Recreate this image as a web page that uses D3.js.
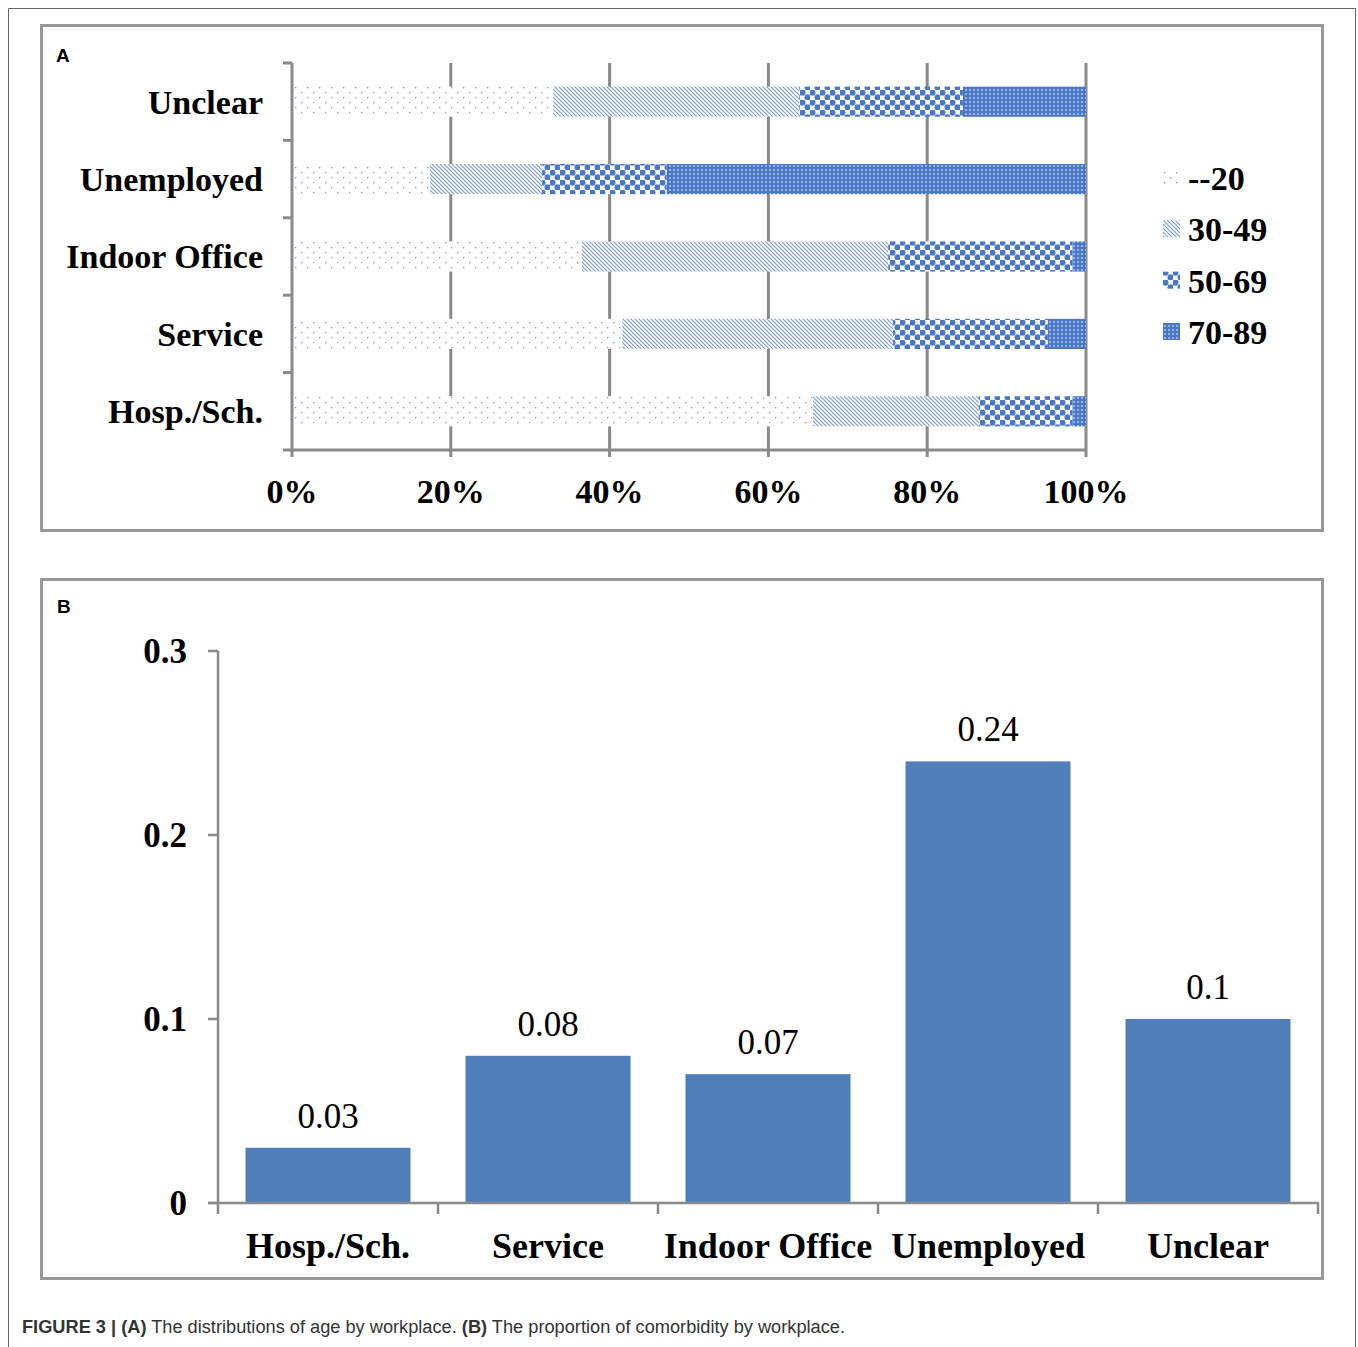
<!DOCTYPE html>
<html>
<head>
<meta charset="utf-8">
<script src="https://cdn.jsdelivr.net/npm/d3@7"></script>
<style>
  html, body { margin: 0; padding: 0; background: #fff; }
  svg { display: block; }
</style>
</head>
<body>
<svg id="fig" width="1358" height="1347"></svg>
<script>
// ---- Panel A: age distribution (%) by workplace ----
const workplacesA = ["Unclear", "Unemployed", "Indoor Office", "Service", "Hosp./Sch."];
const ageGroups = ["--20", "30-49", "50-69", "70-89"];
const ageUnder20 = [32.9, 17.4, 36.5, 41.6, 65.6];
const age30to49  = [31.0, 14.1, 38.6, 34.1, 20.9];
const age50to69  = [20.6, 15.7, 23.2, 19.5, 11.8];
const age70to89  = [15.5, 52.8, 1.7, 4.8, 1.7];
const pctTicks = [0, 20, 40, 60, 80, 100];

// ---- Panel B: proportion with comorbidity by workplace ----
const workplacesB = ["Hosp./Sch.", "Service", "Indoor Office", "Unemployed", "Unclear"];
const comorbidity = [0.03, 0.08, 0.07, 0.24, 0.1];
const propTicks = [0, 0.1, 0.2, 0.3];

const svg = d3.select("#fig");
const serif = "'Liberation Serif', 'DejaVu Serif', serif";
const sans = "'Liberation Sans', Arial, sans-serif";
const axisGrey = "#8a8a8a";
const barBlue = "#4f7ebb";

// ---------- fill patterns ----------
const defs = svg.append("defs");
const patBlue = "#4a78c6";
const patLight = "#7a9ad6";

// sparse dots
const p0 = defs.append("pattern").attr("id", "pat0").attr("patternUnits", "userSpaceOnUse")
  .attr("width", 12).attr("height", 10);
p0.append("rect").attr("width", 12).attr("height", 10).attr("fill", "#fff");
[[1, 2], [7, 7]].forEach(([x, y]) =>
  p0.append("rect").attr("x", x).attr("y", y).attr("width", 1.3).attr("height", 1.3).attr("fill", patLight));

// dense diagonal hatch
const p1 = defs.append("pattern").attr("id", "pat1").attr("patternUnits", "userSpaceOnUse")
  .attr("width", 4).attr("height", 4);
p1.append("rect").attr("width", 4).attr("height", 4).attr("fill", "#fff");
p1.append("path").attr("d", "M-1,-1 L5,5 M-1,3 L1,5 M3,-1 L5,1")
  .attr("stroke", patLight).attr("stroke-width", 1.1);

// large circles checker
const p2 = defs.append("pattern").attr("id", "pat2").attr("patternUnits", "userSpaceOnUse")
  .attr("width", 10).attr("height", 10);
p2.append("rect").attr("width", 10).attr("height", 10).attr("fill", "#fff");
[[2.5, 2.5], [7.5, 7.5]].forEach(([x, y]) =>
  p2.append("circle").attr("cx", x).attr("cy", y).attr("r", 3).attr("fill", patBlue));
p2.append("rect").attr("x", 0).attr("y", 4.5).attr("width", 10).attr("height", 1).attr("fill", patBlue).attr("opacity", 0.6);

// small dense grid
const p3 = defs.append("pattern").attr("id", "pat3").attr("patternUnits", "userSpaceOnUse")
  .attr("width", 4).attr("height", 4);
p3.append("rect").attr("width", 4).attr("height", 4).attr("fill", patBlue);
p3.append("rect").attr("x", 1).attr("y", 1.5).attr("width", 2).attr("height", 1).attr("fill", "#e6edf8");

const patFill = ["url(#pat0)", "url(#pat1)", "url(#pat2)", "url(#pat3)"];

// ---------- figure frame ----------
svg.append("path").attr("d", "M8.5,1347 V8.5 H1355.5 V1347")
  .attr("fill", "none").attr("stroke", "#666").attr("stroke-width", 1);

svg.append("rect").attr("x", 41.5).attr("y", 25.5).attr("width", 1281).attr("height", 505)
  .attr("fill", "none").attr("stroke", "#999").attr("stroke-width", 3);
svg.append("rect").attr("x", 41.5).attr("y", 579.5).attr("width", 1281).attr("height", 699)
  .attr("fill", "none").attr("stroke", "#999").attr("stroke-width", 3);

svg.append("text").attr("x", 56).attr("y", 62).text("A")
  .attr("font-family", sans).attr("font-weight", "bold").attr("font-size", 19);
svg.append("text").attr("x", 57).attr("y", 613).text("B")
  .attr("font-family", sans).attr("font-weight", "bold").attr("font-size", 19);

// ---------- Panel A ----------
const xA = d3.scaleLinear().domain([0, 100]).range([292, 1086]);
const yA = d3.scaleBand().domain(workplacesA).range([63, 450]).paddingInner(0.61).paddingOuter(0.305);
const gA = svg.append("g");

// vertical gridlines
gA.selectAll("line.grid").data(pctTicks.slice(1)).join("line")
  .attr("x1", d => xA(d)).attr("x2", d => xA(d))
  .attr("y1", 63).attr("y2", 450)
  .attr("stroke", axisGrey).attr("stroke-width", 3);

// stacked segments
const seriesA = [ageUnder20, age30to49, age50to69, age70to89];
const stackRows = workplacesA.map((w, i) => {
  const row = { workplace: w };
  ageGroups.forEach((g, k) => { row[g] = seriesA[k][i]; });
  return row;
});
const stacked = d3.stack().keys(ageGroups)(stackRows);
stacked.forEach((layer, k) => {
  gA.append("g").selectAll("rect").data(layer).join("rect")
    .attr("x", d => xA(d[0]))
    .attr("width", d => xA(d[1]) - xA(d[0]))
    .attr("y", d => yA(d.data.workplace))
    .attr("height", yA.bandwidth())
    .attr("fill", patFill[k]);
});

// left axis with category boundary ticks
const leftA = gA.append("g").attr("transform", "translate(292,0)");
leftA.append("line").attr("y1", 63).attr("y2", 451.5).attr("stroke", axisGrey).attr("stroke-width", 3);
const bounds = d3.range(workplacesA.length + 1).map(i => 63 + i * yA.step());
leftA.selectAll("line.tk").data(bounds).join("line")
  .attr("x1", -9).attr("x2", 0).attr("y1", d => d).attr("y2", d => d)
  .attr("stroke", axisGrey).attr("stroke-width", 3);
leftA.selectAll("text").data(workplacesA).join("text")
  .attr("x", -29).attr("y", d => yA(d) + yA.bandwidth() / 2)
  .attr("dy", "0.35em").attr("text-anchor", "end")
  .attr("font-family", serif).attr("font-weight", "bold").attr("font-size", 34)
  .text(d => d);

// bottom axis
const bottomA = gA.append("g").attr("transform", "translate(0,450)");
bottomA.append("line").attr("x1", 292).attr("x2", 1087).attr("stroke", axisGrey).attr("stroke-width", 3);
bottomA.selectAll("line.tk").data(pctTicks).join("line")
  .attr("x1", d => xA(d)).attr("x2", d => xA(d)).attr("y1", 0).attr("y2", 7)
  .attr("stroke", axisGrey).attr("stroke-width", 3);
bottomA.selectAll("text").data(pctTicks).join("text")
  .attr("x", d => xA(d)).attr("y", 53).attr("text-anchor", "middle")
  .attr("font-family", serif).attr("font-weight", "bold").attr("font-size", 34)
  .text(d => d + "%");

// legend
const legA = svg.append("g").attr("transform", "translate(1163,0)");
const legY = d3.scalePoint().domain(ageGroups).range([178, 332]);
legA.selectAll("rect").data(ageGroups).join("rect")
  .attr("x", 0).attr("y", d => legY(d) - 9).attr("width", 17).attr("height", 17)
  .attr("fill", (d, i) => patFill[i]);
legA.selectAll("text").data(ageGroups).join("text")
  .attr("x", 25).attr("y", d => legY(d)).attr("dy", "0.35em")
  .attr("font-family", serif).attr("font-weight", "bold").attr("font-size", 34)
  .text(d => d);

// ---------- Panel B ----------
const xB = d3.scaleBand().domain(workplacesB).range([218, 1318]).paddingInner(0.25).paddingOuter(0.125);
const yB = d3.scaleLinear().domain([0, 0.3]).range([1203, 651]);
const gB = svg.append("g");

gB.selectAll("rect").data(workplacesB).join("rect")
  .attr("x", d => xB(d)).attr("width", xB.bandwidth())
  .attr("y", (d, i) => yB(comorbidity[i]))
  .attr("height", (d, i) => yB(0) - yB(comorbidity[i]))
  .attr("fill", barBlue);

gB.selectAll("text.val").data(workplacesB).join("text")
  .attr("x", d => xB(d) + xB.bandwidth() / 2)
  .attr("y", (d, i) => yB(comorbidity[i]) - 20)
  .attr("text-anchor", "middle")
  .attr("font-family", serif).attr("font-size", 35)
  .text((d, i) => comorbidity[i]);

// left axis
const leftB = gB.append("g").attr("transform", "translate(218,0)");
leftB.append("line").attr("y1", 651).attr("y2", 1203).attr("stroke", axisGrey).attr("stroke-width", 2.5);
leftB.selectAll("line.tk").data(propTicks).join("line")
  .attr("x1", -10).attr("x2", 0).attr("y1", d => yB(d)).attr("y2", d => yB(d))
  .attr("stroke", axisGrey).attr("stroke-width", 2.5);
leftB.selectAll("text").data(propTicks).join("text")
  .attr("x", -31).attr("y", d => yB(d)).attr("dy", "0.35em").attr("text-anchor", "end")
  .attr("font-family", serif).attr("font-weight", "bold").attr("font-size", 35)
  .text(d => d3.format("~g")(d));

// bottom axis with category boundary ticks
const bottomB = gB.append("g").attr("transform", "translate(0,1203)");
bottomB.append("line").attr("x1", 208).attr("x2", 1319).attr("stroke", axisGrey).attr("stroke-width", 2.5);
const boundsB = d3.range(workplacesB.length + 1).map(i => 218 + i * xB.step());
bottomB.selectAll("line.tk").data(boundsB).join("line")
  .attr("x1", d => d).attr("x2", d => d).attr("y1", 0).attr("y2", 11)
  .attr("stroke", axisGrey).attr("stroke-width", 2.5);
bottomB.selectAll("text").data(workplacesB).join("text")
  .attr("x", d => xB(d) + xB.bandwidth() / 2).attr("y", 55).attr("text-anchor", "middle")
  .attr("font-family", serif).attr("font-weight", "bold").attr("font-size", 36)
  .text(d => d);

// ---------- caption ----------
const cap = svg.append("text").attr("x", 22).attr("y", 1333)
  .attr("font-family", sans).attr("font-size", 18).attr("fill", "#333")
  .attr("textLength", 823).attr("lengthAdjust", "spacingAndGlyphs");
cap.append("tspan").attr("font-weight", "bold").text("FIGURE 3 | (A)");
cap.append("tspan").text(" The distributions of age by workplace. ");
cap.append("tspan").attr("font-weight", "bold").text("(B)");
cap.append("tspan").text(" The proportion of comorbidity by workplace.");
</script>
</body>
</html>
